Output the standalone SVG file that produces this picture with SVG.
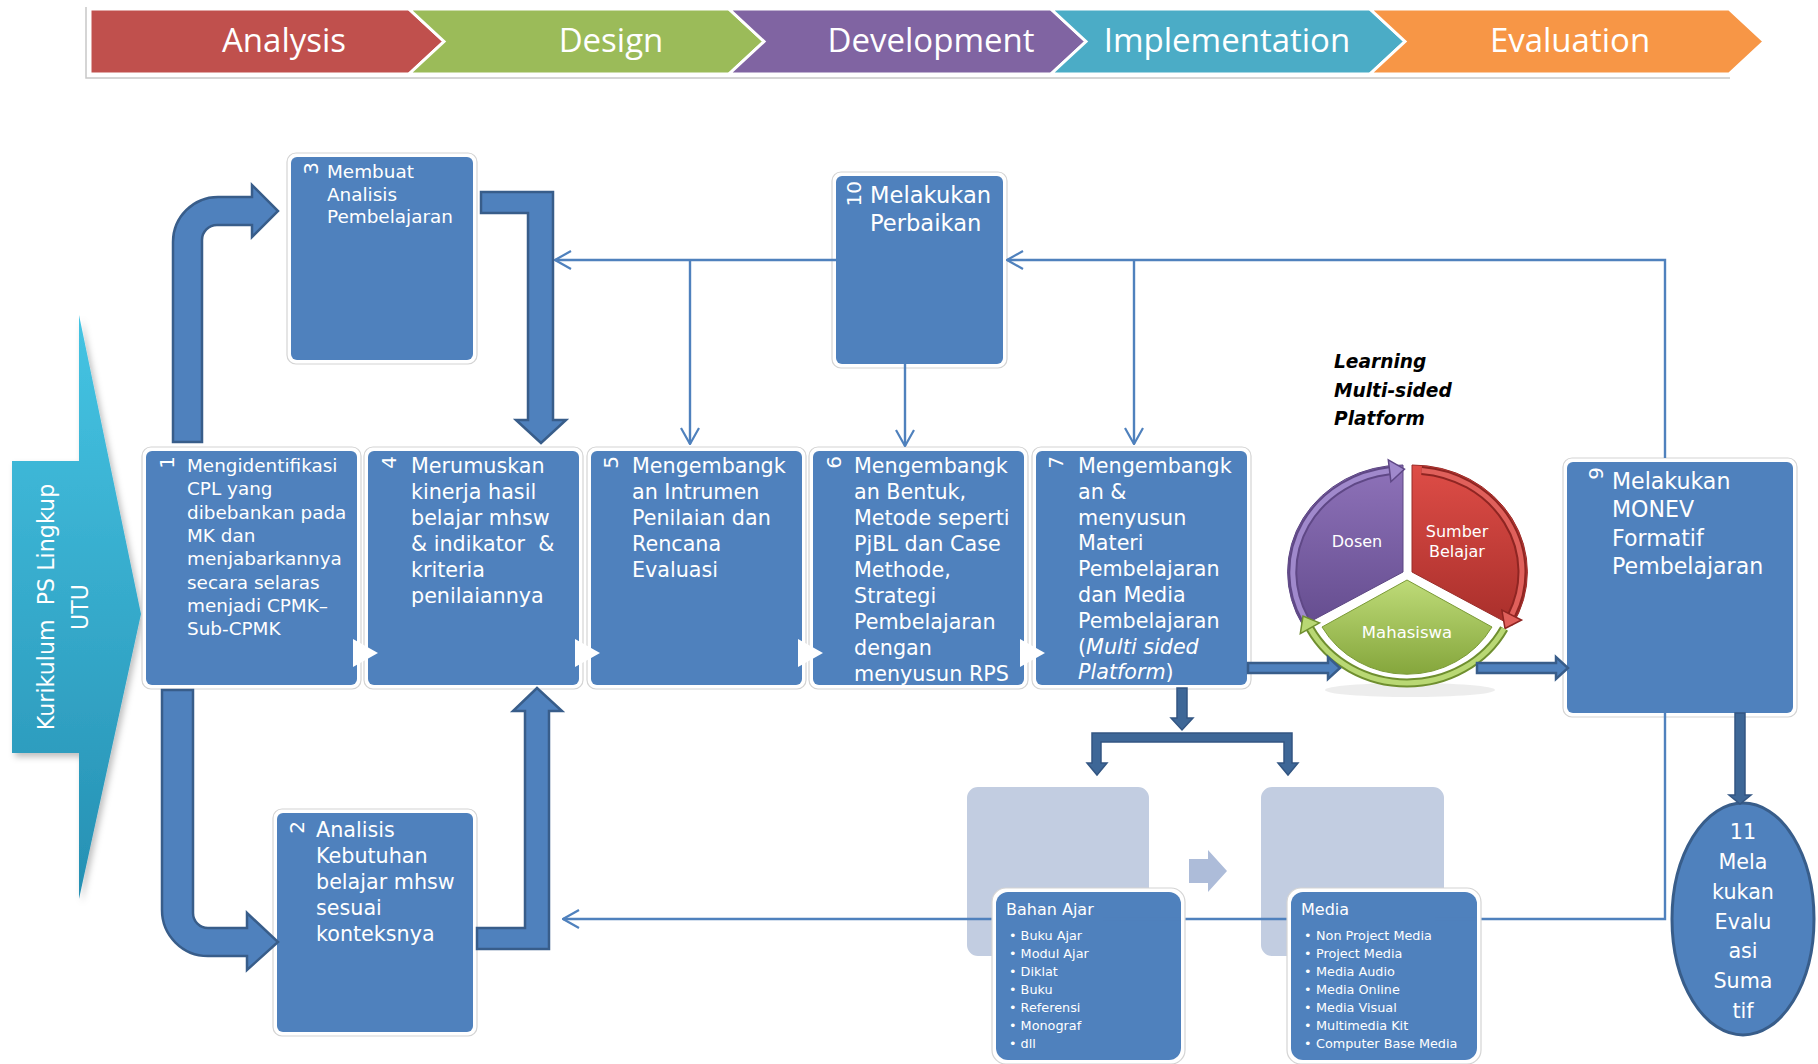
<svg xmlns="http://www.w3.org/2000/svg" width="1818" height="1064" viewBox="0 0 1818 1064">
<style>
.t{font-family:"DejaVu Sans","Noto Sans",sans-serif;fill:#fff;white-space:pre}
.hd{font-family:"Open Sans","Noto Sans",sans-serif;font-size:33px;text-anchor:middle;fill:#fff}
.glow{fill:#fff;stroke:#d4d4d4;stroke-width:1.2}
.box{fill:#4f81bd}
.back{fill:#c2cde1}
.num{font-size:20px;text-anchor:end}
.s18{font-size:18.4px}
.s21{font-size:20.7px}
.s22{font-size:22.1px}
.s23{font-size:22.6px}
.li{font-size:12.8px}
.thin{fill:none;stroke:#4f81bd;stroke-width:2.4}
.fat{fill:#4f81bd;stroke:#385d8a;stroke-width:2.5;stroke-linejoin:miter}
.dark{fill:#3e6797;stroke:#335683;stroke-width:1.5}
.tri{fill:#fff}
</style>
<defs>
<marker id="open" viewBox="0 0 18 20" refX="17" refY="10" markerWidth="18" markerHeight="20" markerUnits="userSpaceOnUse" orient="auto">
<path d="M1,1 L17,10 L1,19" fill="none" stroke="#4f81bd" stroke-width="2.2"/>
</marker>
<linearGradient id="cyan" x1="0" y1="0" x2="0" y2="1">
<stop offset="0" stop-color="#45c4e3"/><stop offset="1" stop-color="#2690b3"/>
</linearGradient>
<linearGradient id="gP" x1="0" y1="0" x2="0" y2="1">
<stop offset="0" stop-color="#8e72b9"/><stop offset="1" stop-color="#654d8f"/>
</linearGradient>
<linearGradient id="gR" x1="0" y1="0" x2="0" y2="1">
<stop offset="0" stop-color="#de4d47"/><stop offset="1" stop-color="#a92f2b"/>
</linearGradient>
<linearGradient id="gG" x1="0" y1="0" x2="0" y2="1">
<stop offset="0" stop-color="#bedb78"/><stop offset="1" stop-color="#85a63c"/>
</linearGradient>
<filter id="sh" x="-20%" y="-10%" width="140%" height="130%">
<feDropShadow dx="3" dy="4" stdDeviation="3" flood-color="#000" flood-opacity="0.25"/>
</filter>
</defs>

<g id="header">
<rect x="86" y="7" width="1680" height="71" fill="#fff"/>
<path d="M86,7 V78 H1730" stroke="#c8c8c8" stroke-width="1.5" fill="none"/>
<g stroke="#fff" stroke-width="3" stroke-linejoin="miter">
<polygon points="90,9 409,9 444,41.5 409,74 90,74" fill="#c0504d"/>
<polygon points="409,9 729,9 764,41.5 729,74 409,74 444,41.5" fill="#9bbb59"/>
<polygon points="729,9 1051,9 1086,41.5 1051,74 729,74 764,41.5" fill="#8064a2"/>
<polygon points="1051,9 1370,9 1405,41.5 1370,74 1051,74 1086,41.5" fill="#4bacc6"/>
<polygon points="1370,9 1729,9 1764,41.5 1729,74 1370,74 1405,41.5" fill="#f79646"/>
</g>
<text class="hd" x="284" y="52">Analysis</text>
<text class="hd" x="611" y="52">Design</text>
<text class="hd" x="931" y="52">Development</text>
<text class="hd" x="1227" y="52">Implementation</text>
<text class="hd" x="1570" y="52">Evaluation</text>
</g>

<g id="kurikulum">
<polygon points="79,315 141,614 79,899 79,753 12,753 12,461 79,461" fill="url(#cyan)" filter="url(#sh)"/>
<text class="t" font-size="22.2" text-anchor="middle" transform="translate(54,607) rotate(-90)">Kurikulum  PS Lingkup</text>
<text class="t" font-size="22.2" text-anchor="middle" transform="translate(88,607) rotate(-90)">UTU</text>
</g>

<g id="node3">
<rect class="glow" x="287" y="153" width="190" height="211" rx="9"/>
<rect class="box" x="291" y="157" width="182" height="203" rx="6"/>
<text class="t num" transform="translate(318,162) rotate(-90)">3</text>
<text class="t s18" x="327" y="178">Membuat</text>
<text class="t s18" x="327" y="200.5">Analisis</text>
<text class="t s18" x="327" y="223">Pembelajaran</text>
</g>

<g id="node10">
<rect class="glow" x="832" y="172" width="175" height="196" rx="9"/>
<rect class="box" x="836" y="176" width="167" height="188" rx="6"/>
<text class="t num" transform="translate(861,181) rotate(-90)">10</text>
<text class="t s23" x="870" y="203">Melakukan</text>
<text class="t s23" x="870" y="231">Perbaikan</text>
</g>

<g id="node1">
<rect class="glow" x="142" y="447" width="219" height="242" rx="9"/>
<rect class="box" x="146" y="451" width="211" height="234" rx="6"/>
<text class="t num" transform="translate(174,456) rotate(-90)">1</text>
<text class="t s18" x="187" y="472">Mengidentifikasi</text>
<text class="t s18" x="187" y="495.3">CPL yang</text>
<text class="t s18" x="187" y="518.6">dibebankan pada</text>
<text class="t s18" x="187" y="541.9">MK dan</text>
<text class="t s18" x="187" y="565.2">menjabarkannya</text>
<text class="t s18" x="187" y="588.5">secara selaras</text>
<text class="t s18" x="187" y="611.8">menjadi CPMK–</text>
<text class="t s18" x="187" y="635.1">Sub-CPMK</text>
</g>

<g id="node4">
<rect class="glow" x="364" y="447" width="219" height="242" rx="9"/>
<rect class="box" x="368" y="451" width="211" height="234" rx="6"/>
<text class="t num" transform="translate(396,456) rotate(-90)">4</text>
<text class="t s21" x="411" y="473">Merumuskan</text>
<text class="t s21" x="411" y="499">kinerja hasil</text>
<text class="t s21" x="411" y="525">belajar mhsw</text>
<text class="t s21" x="411" y="551">&amp; indikator  &amp;</text>
<text class="t s21" x="411" y="577">kriteria</text>
<text class="t s21" x="411" y="603">penilaiannya</text>
</g>

<g id="node5">
<rect class="glow" x="587" y="447" width="219" height="242" rx="9"/>
<rect class="box" x="591" y="451" width="211" height="234" rx="6"/>
<text class="t num" transform="translate(618,456) rotate(-90)">5</text>
<text class="t s21" x="632" y="473">Mengembangk</text>
<text class="t s21" x="632" y="499">an Intrumen</text>
<text class="t s21" x="632" y="525">Penilaian dan</text>
<text class="t s21" x="632" y="551">Rencana</text>
<text class="t s21" x="632" y="577">Evaluasi</text>
</g>

<g id="node6">
<rect class="glow" x="809" y="447" width="219" height="242" rx="9"/>
<rect class="box" x="813" y="451" width="211" height="234" rx="6"/>
<text class="t num" transform="translate(841,456) rotate(-90)">6</text>
<text class="t s21" x="854" y="473">Mengembangk</text>
<text class="t s21" x="854" y="499">an Bentuk,</text>
<text class="t s21" x="854" y="525">Metode seperti</text>
<text class="t s21" x="854" y="551">PjBL dan Case</text>
<text class="t s21" x="854" y="577">Methode,</text>
<text class="t s21" x="854" y="603">Strategi</text>
<text class="t s21" x="854" y="629">Pembelajaran</text>
<text class="t s21" x="854" y="655">dengan</text>
<text class="t s21" x="854" y="681">menyusun RPS</text>
</g>

<g id="node7">
<rect class="glow" x="1032" y="447" width="219" height="242" rx="9"/>
<rect class="box" x="1036" y="451" width="211" height="234" rx="6"/>
<text class="t num" transform="translate(1063,456) rotate(-90)">7</text>
<text class="t s21" x="1078" y="473">Mengembangk</text>
<text class="t s21" x="1078" y="498.8">an &amp;</text>
<text class="t s21" x="1078" y="524.6">menyusun</text>
<text class="t s21" x="1078" y="550.4">Materi</text>
<text class="t s21" x="1078" y="576.2">Pembelajaran</text>
<text class="t s21" x="1078" y="602">dan Media</text>
<text class="t s21" x="1078" y="627.8">Pembelajaran</text>
<text class="t s21" x="1078" y="653.6">(<tspan font-style="italic">Multi sided</tspan></text>
<text class="t s21" x="1078" y="679.4"><tspan font-style="italic">Platform</tspan>)</text>
</g>

<g id="platform">
<text font-family="'DejaVu Sans','Noto Sans',sans-serif" font-size="18.6" font-weight="bold" font-style="italic" fill="#000">
<tspan x="1334" y="368">Learning</tspan>
<tspan x="1334" y="396.5">Multi-sided</tspan>
<tspan x="1334" y="425">Platform</tspan>
</text>
<g id="pie">
<ellipse cx="1410" cy="690" rx="85" ry="7" fill="#000" opacity="0.07"/>
<path d="M1403,572 L1403,465 A115,107 0 0 0 1303,625.5 Z" fill="url(#gP)" stroke="#5c4682" stroke-width="1"/>
<path d="M1412,572 L1412,465 A115,107 0 0 1 1512,625.5 Z" fill="url(#gR)" stroke="#9a2c28" stroke-width="1"/>
<path d="M1304.8,618.4 A110,102 0 0 1 1389.6,470.8" fill="none" stroke="#5f4886" stroke-width="9"/>
<path d="M1304.8,618.4 A110,102 0 0 1 1389.6,470.8" fill="none" stroke="#a089cc" stroke-width="5"/>
<polygon points="1388.3,459.9 1404.5,469.1 1390.9,481.7" fill="#a089cc" stroke="#5f4886" stroke-width="1.5"/>
<path d="M1421.6,470.4 A110,102 0 0 1 1511.7,615.1" fill="none" stroke="#8f2522" stroke-width="9"/>
<path d="M1421.6,470.4 A110,102 0 0 1 1511.7,615.1" fill="none" stroke="#e0605b" stroke-width="5"/>
<polygon points="1521.5,620 1505,628.5 1501.9,610.2" fill="#e0605b" stroke="#8f2522" stroke-width="1.5"/>
<path d="M1407,580 L1322,627 A98,94 0 0 0 1492,627 Z" fill="url(#gG)" stroke="#7a9a35" stroke-width="1"/>
<path d="M1504.1,628.4 A110,103 0 0 1 1309.9,628.3" fill="none" stroke="#6f8f2f" stroke-width="9"/>
<path d="M1504.1,628.4 A110,103 0 0 1 1309.9,628.3" fill="none" stroke="#b9d874" stroke-width="5"/>
<polygon points="1319.5,622.9 1303,616.1 1300.3,633.7" fill="#b9d874" stroke="#6f8f2f" stroke-width="1.5"/>
<text class="t" font-size="16" text-anchor="middle" x="1357" y="547">Dosen</text>
<text class="t" font-size="16" text-anchor="middle" x="1457" y="537">Sumber</text>
<text class="t" font-size="16" text-anchor="middle" x="1457" y="557">Belajar</text>
<text class="t" font-size="16.5" text-anchor="middle" x="1407" y="638">Mahasiswa</text>
</g>
</g>

<g id="node9">
<rect class="glow" x="1563" y="458" width="234" height="259" rx="9"/>
<rect class="box" x="1567" y="462" width="226" height="251" rx="6"/>
<text class="t num" font-size="23" transform="translate(1603,467) rotate(-90)">9</text>
<text class="t s22" x="1612" y="489">Melakukan</text>
<text class="t s22" x="1612" y="517.3">MONEV</text>
<text class="t s22" x="1612" y="545.6">Formatif</text>
<text class="t s22" x="1612" y="573.9">Pembelajaran</text>
</g>

<g id="node2">
<rect class="glow" x="273" y="809" width="204" height="227" rx="9"/>
<rect class="box" x="277" y="813" width="196" height="219" rx="6"/>
<text class="t num" transform="translate(304,821) rotate(-90)">2</text>
<text class="t s21" x="316" y="837">Analisis</text>
<text class="t s21" x="316" y="863">Kebutuhan</text>
<text class="t s21" x="316" y="889">belajar mhsw</text>
<text class="t s21" x="316" y="915">sesuai</text>
<text class="t s21" x="316" y="941">konteksnya</text>
</g>

<g id="node11">
<ellipse cx="1743" cy="919" rx="71" ry="116" fill="#4f81bd" stroke="#385d8a" stroke-width="3"/>
<g class="t s21" text-anchor="middle">
<text x="1743" y="839">11</text>
<text x="1743" y="869">Mela</text>
<text x="1743" y="899">kukan</text>
<text x="1743" y="929">Evalu</text>
<text x="1743" y="958">asi</text>
<text x="1743" y="988">Suma</text>
<text x="1743" y="1018">tif</text>
</g>
</g>

<g id="bahan-back">
<rect x="965" y="785" width="186" height="173" rx="13" class="back" stroke="#fff" stroke-width="4"/>
</g>
<g id="media-back">
<rect x="1259" y="785" width="187" height="173" rx="13" class="back" stroke="#fff" stroke-width="4"/>
</g>
<polygon id="light-arrow" points="1189,859 1208,859 1208,850 1227,871 1208,892 1208,883 1189,883" fill="#adbcd9"/>

<g id="connectors-lower">
<path class="thin" d="M1665,713 L1665,919 L1435,919"/>
<path class="thin" d="M1291,919 L1103,919"/>
<path class="thin" d="M996,919 L563,919" marker-end="url(#open)"/>
</g>

<g id="bahan-ajar">
<rect class="glow" x="992" y="888" width="193" height="176" rx="14"/>
<rect class="box" x="996" y="892" width="185" height="168" rx="12"/>
<path class="thin" d="M1103,919 L1181,919"/>
<text class="t" font-size="16" x="1006" y="915">Bahan Ajar</text>
<g class="t li">
<text x="1009" y="940">• Buku Ajar</text>
<text x="1009" y="958">• Modul Ajar</text>
<text x="1009" y="976">• Diklat</text>
<text x="1009" y="994">• Buku</text>
<text x="1009" y="1012">• Referensi</text>
<text x="1009" y="1030">• Monograf</text>
<text x="1009" y="1048">• dll</text>
</g>
</g>

<g id="media">
<rect class="glow" x="1287" y="888" width="194" height="176" rx="14"/>
<rect class="box" x="1291" y="892" width="186" height="168" rx="12"/>
<path class="thin" d="M1435,919 L1477,919"/>
<text class="t" font-size="16" x="1301" y="915">Media</text>
<g class="t li">
<text x="1304" y="940">•</text><text x="1316" y="940">Non Project Media</text>
<text x="1304" y="958">•</text><text x="1316" y="958">Project Media</text>
<text x="1304" y="976">•</text><text x="1316" y="976">Media  Audio</text>
<text x="1304" y="994">•</text><text x="1316" y="994">Media  Online</text>
<text x="1304" y="1012">•</text><text x="1316" y="1012">Media  Visual</text>
<text x="1304" y="1030">•</text><text x="1316" y="1030">Multimedia Kit</text>
<text x="1304" y="1048">•</text><text x="1316" y="1048">Computer Base  Media</text>
</g>
</g>

<g id="connectors">
<path class="thin" d="M836,260 L555,260" marker-end="url(#open)"/>
<path class="thin" d="M690,260 L690,444" marker-end="url(#open)"/>
<path class="thin" d="M1665,458 L1665,260 L1007,260" marker-end="url(#open)"/>
<path class="thin" d="M1134,260 L1134,444" marker-end="url(#open)"/>
<path class="thin" d="M905,364 L905,446" marker-end="url(#open)"/>

<path class="fat" d="M173,442 L173,242 A45,45 0 0 1 218,197 L252,197 L252,185 L278,211 L252,237 L252,225 L217,225 A15,15 0 0 0 202,240 L202,442 Z"/>
<path class="fat" d="M481,192 L553,192 L553,420 L566,420 L541,443 L516,420 L528,420 L528,213 L481,213 Z"/>
<path class="fat" d="M162,690 L193,690 L193,913 A15,15 0 0 0 208,928 L247,928 L247,913 L278,942 L247,970 L247,956 L208,956 A46,46 0 0 1 162,910 Z"/>
<path class="fat" d="M477,928 L525,928 L525,711 L513,711 L537,688 L562,711 L549,711 L549,949 L477,949 Z"/>

<path class="fat" d="M1248,663 L1328,663 L1328,657 L1340,668 L1328,679 L1328,673 L1248,673 Z"/>
<path class="fat" d="M1477,663 L1556,663 L1556,657 L1568,668 L1556,679 L1556,673 L1477,673 Z"/>

<path class="dark" d="M1177,688 L1187,688 L1187,718 L1193,718 L1182,730 L1171,718 L1177,718 Z"/>
<path class="dark" d="M1092,733 L1292,733 L1292,763 L1298,763 L1288,775 L1278,763 L1284,763 L1284,742 L1101,742 L1101,763 L1107,763 L1097,775 L1087,763 L1092,763 Z"/>
<path class="dark" d="M1735,713 L1745,713 L1745,795 L1751,795 L1740,804 L1729,795 L1735,795 Z"/>

<polygon class="tri" points="353,639 378,653 353,667"/>
<polygon class="tri" points="575,639 600,653 575,667"/>
<polygon class="tri" points="798,639 823,653 798,667"/>
<polygon class="tri" points="1020,639 1045,653 1020,667"/>
</g>
</svg>
